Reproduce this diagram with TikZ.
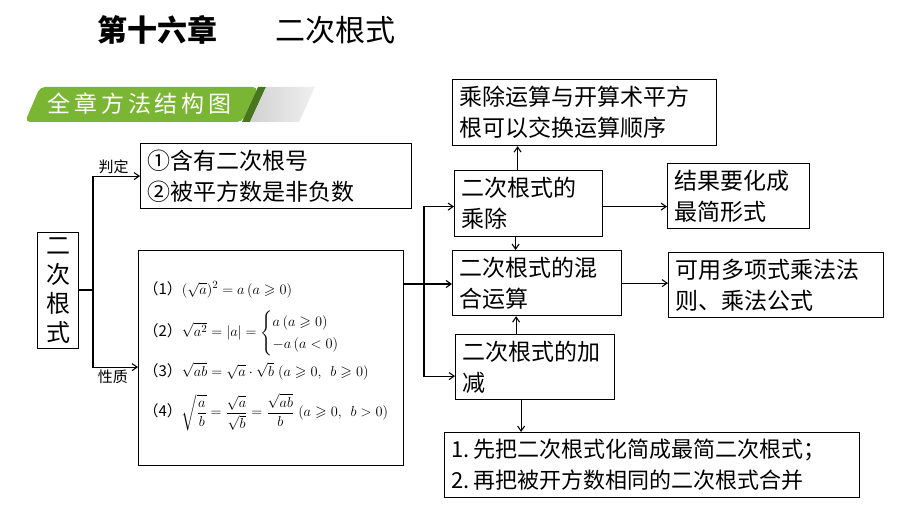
\documentclass[tikz,border=0pt]{standalone}
\usepackage{amsmath,amssymb}
\usepackage{fontspec}
\setmainfont{Noto Sans CJK SC}
\usetikzlibrary{arrows.meta}

\definecolor{bannergreen}{RGB}{122,181,52}
\definecolor{bannerdark}{RGB}{72,118,30}

\begin{document}
\begin{tikzpicture}[x=1pt,y=-1pt,>={Straight Barb[length=5pt,width=7pt]},line width=1.2pt]

    % Define node styles
    \tikzstyle{text_block} = [draw, line width=1.2pt, anchor=north west, align=left, inner xsep=7pt, inner ysep=0pt, font=\fontsize{23}{31}\selectfont]
    \tikzstyle{label_text} = [inner sep=2pt, font=\fontsize{15}{18}\selectfont]
    \tikzstyle{conn} = [->, line width=1.1pt]

    \useasboundingbox (0,0) rectangle (920,518);

    % Title and banner
    \node[anchor=west, inner sep=0pt, font=\fontsize{30}{34}\selectfont\bfseries] (chapter) at (97,30) {第十六章};
    \node[anchor=west, inner sep=0pt, font=\fontsize{30}{34}\selectfont] (topic) at (275,30) {二次根式};

    \fill[bannergreen, rounded corners=5pt] (40,87) -- (258,87) -- (242,122) -- (25,122) -- cycle;
    \fill[bannerdark] (258,87) -- (266,87) -- (250,122) -- (242,122) -- cycle;
    \shade[left color=black!18, right color=black!6] (266,87) -- (315,87) -- (299,122) -- (250,122) -- cycle;
    \node[anchor=west, inner sep=0pt, text=white, font=\fontsize{23}{26}\selectfont] (banner) at (47,104) {全\,章\,方\,法\,结\,构\,图};

    % Draw nodes
    \node[text_block, align=center, inner xsep=0pt, text width=41pt, minimum height=116pt, font=\fontsize{24}{29}\selectfont] (base) at (37,232) {二\\次\\根\\式};
    \node[text_block, text width=257pt, minimum height=65pt] (judge) at (140,143) {①含有二次根号\\②被平方数是非负数};
    \node[text_block, text width=255pt, minimum height=215pt, inner xsep=5pt, font=\fontsize{15}{18}\selectfont] (props) at (138,250)
        {（1）$(\sqrt{a})^2=a\,(a\geqslant0)$\\[12pt]
         （2）$\sqrt{a^2}=|a|=\begin{cases}a\,(a\geqslant0)\\-a\,(a<0)\end{cases}$\\[6pt]
         （3）$\sqrt{ab}=\sqrt{a}\cdot\sqrt{b}\;(a\geqslant0,\;\, b\geqslant0)$\\[13pt]
         （4）$\sqrt{\dfrac{a}{b}}=\dfrac{\sqrt{a}}{\sqrt{b}}=\dfrac{\sqrt{ab}}{b}\;(a\geqslant0,\;\, b>0)$\\
         \mbox{}};

    \node[text_block, text width=250pt, minimum height=66pt] (swap) at (452,79) {乘除运算与开算术平方\\根可以交换运算顺序};
    \node[text_block, text width=134pt, minimum height=66pt] (muldiv) at (454,170) {二次根式的\\乘除};
    \node[text_block, text width=128pt, minimum height=65pt] (result) at (667,163) {结果要化成\\最简形式};
    \node[text_block, text width=155pt, minimum height=65pt] (mixed) at (452,250) {二次根式的混\\合运算};
    \node[text_block, text width=201pt, minimum height=65pt] (poly) at (668,252) {可用多项式乘法法\\则、乘法公式};
    \node[text_block, text width=145pt, minimum height=65pt] (addsub) at (455,334) {二次根式的加\\减};
    \node[text_block, text width=401pt, minimum height=65pt, font=\fontsize{22}{31}\selectfont] (steps) at (444,432) {1.\,先把二次根式化简成最简二次根式；\\2.\,再把被开方数相同的二次根式合并};

    % Draw arrows
    \coordinate (fork) at (93,290);
    \coordinate (split) at (424,284);

    \draw (base.east |- fork) -- (fork);
    \draw[conn] (fork) |- (judge.west) node[label_text, pos=0.72, above] (judge_label) {判定};
    \draw[conn] (fork) |- ([yshift=-9pt]props.west) node[label_text, pos=0.72, below] (props_label) {性质};

    \draw (props.east |- split) -- (split);
    \draw[conn] (split) |- ([yshift=-3pt]muldiv.west);
    \draw[conn] (split) -- (split -| mixed.west);
    \draw[conn] (split) |- ([yshift=-9pt]addsub.west);

    \draw[conn] ([xshift=-11pt]muldiv.north) -- ([xshift=-11pt]muldiv.north |- swap.south);
    \draw[conn] ([yshift=-3pt]muldiv.east) -- ([yshift=-3pt]muldiv.east -| result.west);
    \draw[conn] ([xshift=-13pt]muldiv.south) -- ([xshift=-13pt]muldiv.south |- mixed.north);
    \draw[conn] (mixed.east) -- (mixed.east -| poly.west);
    \draw[conn] ([xshift=-19pt]addsub.north) -- ([xshift=-19pt]addsub.north |- mixed.south);
    \draw[conn] ([xshift=-14pt]addsub.south) -- ([xshift=-14pt]addsub.south |- steps.north);

\end{tikzpicture}
\end{document}
